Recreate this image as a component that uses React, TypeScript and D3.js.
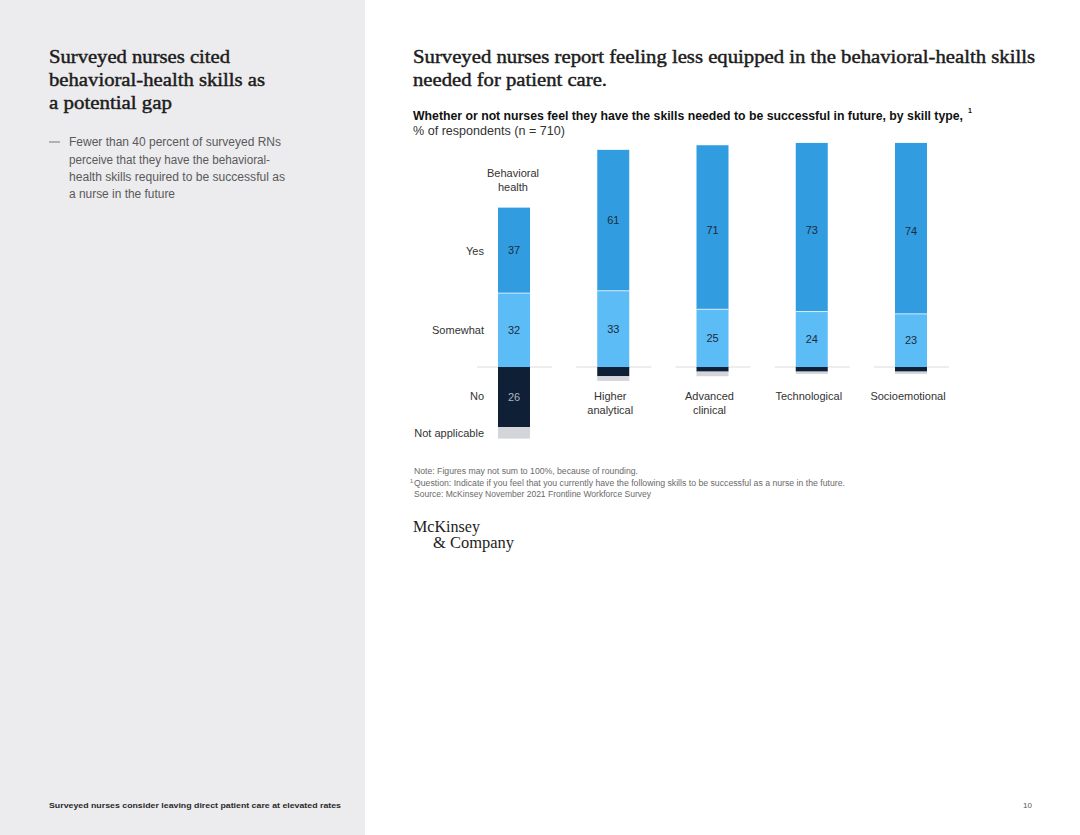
import React from "react";
import * as d3 from "d3";

const categories = ["Behavioral health", "Higher analytical", "Advanced clinical", "Technological", "Socioemotional"];
const categoryLines = [["Behavioral", "health"], ["Higher", "analytical"], ["Advanced", "clinical"], ["Technological"], ["Socioemotional"]];
const yesValues = [37, 61, 71, 73, 74];
const somewhatValues = [32, 33, 25, 24, 23];
const noValues = [26, 4, 2, 2, 2];
const naValues = [5, 2, 2, 1, 1];
const rowLabels = ["Yes", "Somewhat", "No", "Not applicable"];

const SERIF = "'Liberation Serif', 'DejaVu Serif', serif";
const SANS = "'Liberation Sans', Arial, sans-serif";

const colors = {
  yes: "#319ce0",
  somewhat: "#5cbcf6",
  no: "#0f1f35",
  na: "#d3d5da",
  grid: "#dcdcdc",
};

export default function App() {
  const width = 1080;
  const height = 835;

  const x = d3.scalePoint<string>().domain(categories).range([514, 911]);
  const y = d3.scaleLinear().domain([-40, 100]).range([367 + 40 * 2.31, 367 - 100 * 2.31]);
  const barW = 32;

  const bars = categories.map((c, i) => {
    const cx = x(c) as number;
    const yes = yesValues[i];
    const sw = somewhatValues[i];
    const no = noValues[i];
    const na = naValues[i];
    return {
      c,
      i,
      cx,
      segs: [
        { key: "yes", y0: sw, y1: sw + yes, v: yes, fill: colors.yes },
        { key: "somewhat", y0: 0, y1: sw, v: sw, fill: colors.somewhat },
        { key: "no", y0: -no, y1: 0, v: no, fill: colors.no },
        { key: "na", y0: -no - na, y1: -no, v: na, fill: colors.na },
      ],
    };
  });

  const first = bars[0];
  const rowY = [
    y(first.segs[0].y0 + first.segs[0].v / 2) + 1,
    y(first.segs[1].v / 2),
    y(-first.segs[2].v / 2) - 1,
    y(first.segs[3].y0 + first.segs[3].v / 2),
  ];

  // semibold look for serif headings
  const serifHead = { fontFamily: SERIF, fontSize: 19, fill: "#1c1c1c", stroke: "#1c1c1c", strokeWidth: 0.45 };

  return (
    <div style={{ position: "absolute", left: 0, top: 0, width, height }}>
      <svg width={width} height={height} viewBox={`0 0 ${width} ${height}`} style={{ display: "block" }}>
        <rect x={0} y={0} width={width} height={height} fill="#ffffff" />
        <rect x={0} y={0} width={365} height={height} fill="#ecebee" />

        {/* left panel */}
        <g {...serifHead}>
          <text x={49} y={63} textLength={181} lengthAdjust="spacingAndGlyphs">Surveyed nurses cited</text>
          <text x={49} y={86} textLength={216} lengthAdjust="spacingAndGlyphs">behavioral-health skills as</text>
          <text x={49} y={109} textLength={123} lengthAdjust="spacingAndGlyphs">a potential gap</text>
        </g>
        <g fontFamily={SANS} fontSize={12} fill="#5a5a5a">
          <line x1={49} x2={60} y1={142} y2={142} stroke="#777" strokeWidth={1} />
          <text x={69} y={146} textLength={212} lengthAdjust="spacingAndGlyphs">Fewer than 40 percent of surveyed RNs</text>
          <text x={69} y={164} textLength={201} lengthAdjust="spacingAndGlyphs">perceive that they have the behavioral-</text>
          <text x={69} y={181} textLength={216} lengthAdjust="spacingAndGlyphs">health skills required to be successful as</text>
          <text x={69} y={198} textLength={106} lengthAdjust="spacingAndGlyphs">a nurse in the future</text>
        </g>
        <text x={49} y={808} fontFamily={SANS} fontWeight="bold" fontSize={8} fill="#2a2a2a" textLength={292} lengthAdjust="spacingAndGlyphs">
          Surveyed nurses consider leaving direct patient care at elevated rates
        </text>
        <text x={1032} y={808} fontFamily={SANS} fontSize={8} fill="#555" textAnchor="end">10</text>

        {/* right title */}
        <g {...serifHead}>
          <text x={413} y={63} textLength={622} lengthAdjust="spacingAndGlyphs">Surveyed nurses report feeling less equipped in the behavioral-health skills</text>
          <text x={413} y={86} textLength={194} lengthAdjust="spacingAndGlyphs">needed for patient care.</text>
        </g>
        <text x={413} y={120} fontFamily={SANS} fontWeight="bold" fontSize={12} fill="#111" textLength={550} lengthAdjust="spacingAndGlyphs">
          Whether or not nurses feel they have the skills needed to be successful in future, by skill type,
        </text>
        <text x={968} y={113} fontFamily={SANS} fontWeight="bold" fontSize={7} fill="#111">1</text>
        <text x={413} y={135} fontFamily={SANS} fontSize={12.5} fill="#333" textLength={152} lengthAdjust="spacingAndGlyphs">% of respondents (n = 710)</text>

        {/* baseline grid segments */}
        <g>
          {bars.map((b) => (
            <line key={b.c} x1={b.cx - 37} x2={b.cx + 38} y1={y(0)} y2={y(0)} stroke={colors.grid} strokeWidth={1} />
          ))}
        </g>

        {/* bars */}
        <g>
          {bars.map((b) => (
            <g key={b.c}>
              {b.segs.map((s) => (
                <rect key={s.key} x={b.cx - barW / 2} y={y(s.y1)} width={barW} height={y(s.y0) - y(s.y1)} fill={s.fill} />
              ))}
              <line x1={b.cx - barW / 2} x2={b.cx + barW / 2} y1={y(b.segs[1].y1)} y2={y(b.segs[1].y1)} stroke="#ffffff" strokeOpacity={0.7} strokeWidth={1} />
            </g>
          ))}
        </g>

        {/* value labels */}
        <g fontFamily={SANS} fontSize={11} textAnchor="middle">
          {bars.map((b) =>
            b.segs
              .filter((s) => s.v >= 10)
              .map((s) => (
                <text key={b.c + s.key} x={b.cx} y={y((s.y0 + s.y1) / 2) + (s.key === "yes" && b.i > 1 ? 3 : 0)} dy="0.35em" fill={s.key === "no" ? "#aeb6c2" : "#1d2b3c"}>
                  {s.v}
                </text>
              ))
          )}
        </g>

        {/* row labels */}
        <g fontFamily={SANS} fontSize={11} fill="#333" textAnchor="end">
          {rowLabels.map((r, i) => (
            <text key={r} x={484} y={rowY[i]} dy="0.35em">{r}</text>
          ))}
        </g>

        {/* category labels */}
        <g fontFamily={SANS} fontSize={11} fill="#333" textAnchor="middle">
          {bars.map((b) => {
            const lines = categoryLines[b.i];
            if (b.i === 0) {
              const top = y(b.segs[0].y1) - 31;
              return lines.map((l, k) => (
                <text key={l} x={b.cx - 1} y={top + k * 14}>{l}</text>
              ));
            }
            return lines.map((l, k) => (
              <text key={l} x={b.cx - 3} y={400 + k * 14}>{l}</text>
            ));
          })}
        </g>

        {/* notes */}
        <g fontFamily={SANS} fontSize={8.5} fill="#6a6a6a">
          <text x={414} y={474} textLength={224} lengthAdjust="spacingAndGlyphs">Note: Figures may not sum to 100%, because of rounding.</text>
          <text x={410} y={483} fontSize={5.5}>1</text>
          <text x={414} y={486} textLength={431} lengthAdjust="spacingAndGlyphs">Question: Indicate if you feel that you currently have the following skills to be successful as a nurse in the future.</text>
          <text x={414} y={497} textLength={237} lengthAdjust="spacingAndGlyphs">Source: McKinsey November 2021 Frontline Workforce Survey</text>
        </g>

        {/* logo */}
        <g fontFamily={SERIF} fontSize={16} fill="#1c1c1c">
          <text x={413} y={532} textLength={67} lengthAdjust="spacingAndGlyphs">McKinsey</text>
          <text x={433} y={548} textLength={81} lengthAdjust="spacingAndGlyphs">&amp; Company</text>
        </g>
      </svg>
    </div>
  );
}
